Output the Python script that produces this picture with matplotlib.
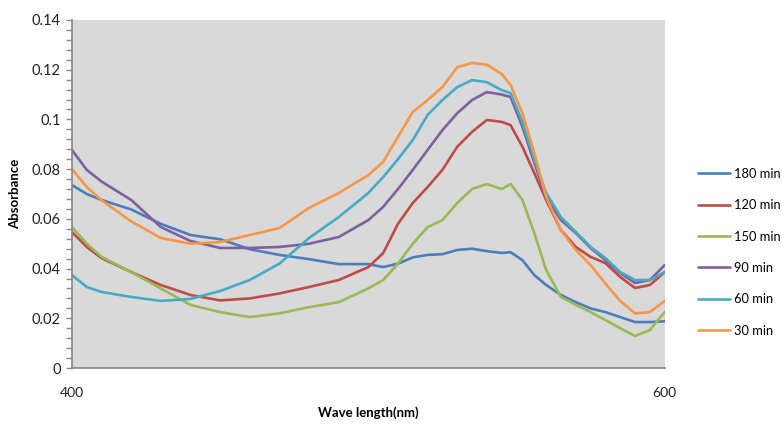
import numpy as np
import matplotlib
matplotlib.use("Agg")
import matplotlib.pyplot as plt
from matplotlib.ticker import MultipleLocator

plt.rcParams["font.family"] = ["Lato", "DejaVu Sans"]

# wavelength grid (nm) shared by all spectra
wavelength = [400, 405, 410, 420, 430, 440, 450, 460, 470, 480, 490, 500, 505, 510,
              515, 520, 525, 530, 535, 540, 545, 548, 552, 556, 560, 565, 570, 575,
              580, 585, 590, 595, 600]

abs_180 = [0.0736, 0.0700, 0.0676, 0.0638, 0.0580, 0.0535, 0.0518, 0.0478, 0.0455, 0.0438,
           0.0418, 0.0418, 0.0406, 0.0420, 0.0445, 0.0455, 0.0458, 0.0475, 0.0480, 0.0470,
           0.0463, 0.0466, 0.0434, 0.0374, 0.0334, 0.0294, 0.0265, 0.0240, 0.0225, 0.0205,
           0.0185, 0.0185, 0.0188]
abs_120 = [0.0547, 0.0487, 0.0442, 0.0386, 0.0334, 0.0294, 0.0272, 0.0280, 0.0300, 0.0326,
           0.0354, 0.0406, 0.0462, 0.0580, 0.0664, 0.0728, 0.0797, 0.0890, 0.0950, 0.0998,
           0.0990, 0.0977, 0.0890, 0.0784, 0.0676, 0.0555, 0.0487, 0.0447, 0.0422, 0.0366,
           0.0322, 0.0334, 0.0386]
abs_150 = [0.0567, 0.0500, 0.0447, 0.0386, 0.0320, 0.0254, 0.0225, 0.0205, 0.0220, 0.0245,
           0.0265, 0.0320, 0.0354, 0.0420, 0.0500, 0.0567, 0.0595, 0.0664, 0.0720, 0.0740,
           0.0720, 0.0740, 0.0676, 0.0543, 0.0394, 0.0286, 0.0254, 0.0225, 0.0193, 0.0160,
           0.0129, 0.0153, 0.0225]
abs_90 = [0.0877, 0.0797, 0.0750, 0.0676, 0.0567, 0.0511, 0.0483, 0.0483, 0.0487, 0.0500,
          0.0527, 0.0595, 0.0648, 0.0720, 0.0797, 0.0877, 0.0957, 0.1025, 0.1078, 0.1110,
          0.1100, 0.1090, 0.0970, 0.0825, 0.0688, 0.0595, 0.0543, 0.0483, 0.0434, 0.0382,
          0.0342, 0.0354, 0.0414]
abs_60 = [0.0374, 0.0326, 0.0306, 0.0286, 0.0270, 0.0278, 0.0310, 0.0354, 0.0420, 0.0523,
          0.0607, 0.0704, 0.0768, 0.0840, 0.0917, 0.1018, 0.1078, 0.1130, 0.1158, 0.1150,
          0.1118, 0.1106, 0.0990, 0.0837, 0.0704, 0.0607, 0.0547, 0.0487, 0.0442, 0.0386,
          0.0354, 0.0354, 0.0386]
abs_30 = [0.0800, 0.0728, 0.0675, 0.0590, 0.0523, 0.0500, 0.0507, 0.0535, 0.0563, 0.0644,
          0.0704, 0.0776, 0.0829, 0.0930, 0.1030, 0.1078, 0.1130, 0.1210, 0.1227, 0.1220,
          0.1183, 0.1138, 0.1025, 0.0865, 0.0688, 0.0555, 0.0475, 0.0414, 0.0340, 0.0270,
          0.0220, 0.0225, 0.0270]

series = [
    ("180 min", abs_180, "#4A7EBB"),
    ("120 min", abs_120, "#BE4B48"),
    ("150 min", abs_150, "#98B954"),
    ("90 min", abs_90, "#7D60A0"),
    ("60 min", abs_60, "#46AAC5"),
    ("30 min", abs_30, "#F79646"),
]

fig = plt.figure(figsize=(7.82, 4.25), dpi=100)
ax = fig.add_axes([0.092, 0.134, 0.758, 0.819])
ax.set_facecolor("#D9D9D9")

for label, values, color in series:
    ax.plot(wavelength, values, color=color, linewidth=1.9, label=label,
            solid_capstyle="round")

ax.set_xlim(400, 600)
ax.set_ylim(0, 0.14)
ax.set_xticks([400, 600])
ax.set_xticklabels(["400", "600"])
ax.tick_params(axis="x", length=0, pad=14, labelsize=10, colors="#222222")
ax.yaxis.set_minor_locator(MultipleLocator(0.004))
ax.set_yticks(np.arange(0, 0.141, 0.02))
ax.set_yticklabels(["0", "0.02", "0.04", "0.06", "0.08", "0.1", "0.12", "0.14"])
ax.tick_params(axis="y", which="both", length=4, width=1, color="#868686",
               labelsize=10.5, labelcolor="#222222", pad=4)

for side in ("top", "right"):
    ax.spines[side].set_visible(False)
for side in ("left", "bottom"):
    ax.spines[side].set_color("#868686")
    ax.spines[side].set_linewidth(1.2)

ax.set_xlabel("Wave length(nm)", fontsize=9.5, fontweight="bold", labelpad=5)
ax.set_ylabel("Absorbance", fontsize=9.5, fontweight="bold", labelpad=8)

ax.legend(loc="upper left", bbox_to_anchor=(0.892, 0.605), bbox_transform=fig.transFigure,
          frameon=False, fontsize=9.3, handlelength=2.55, handletextpad=0.25,
          labelspacing=1.5, borderpad=0, borderaxespad=0)

fig.savefig("out.png", dpi=100)
